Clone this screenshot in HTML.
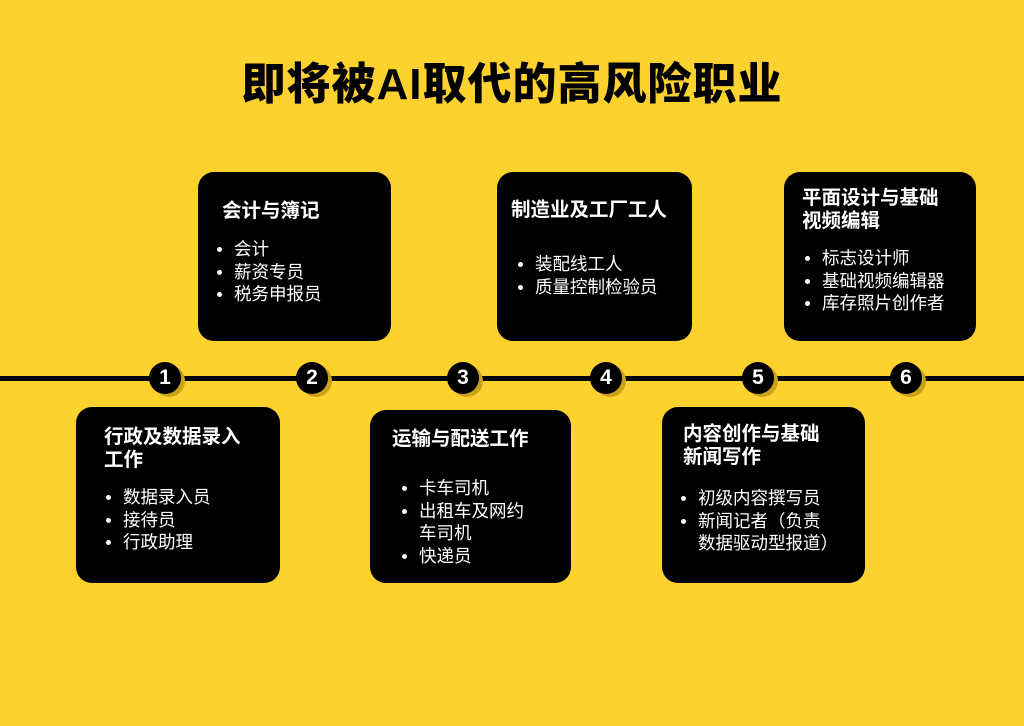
<!DOCTYPE html>
<html><head><meta charset="utf-8"><style>
*{margin:0;padding:0;box-sizing:border-box}
body{width:1024px;height:726px;background:#FDD22F;position:relative;overflow:hidden;font-family:"Liberation Sans","Noto Sans CJK SC",sans-serif}
h1{position:absolute;left:0;width:1024px;top:57px;text-align:center;font-size:44px;font-weight:900;color:#000;letter-spacing:1px;line-height:56px}
.line{position:absolute;left:0;width:1024px;top:376px;height:5px;background:#000}
.c{position:absolute;width:32px;height:32px;border-radius:50%;background:#000;color:#fff;font-weight:900;font-size:21px;text-align:center;line-height:32px;top:362px;box-shadow:4px 3px 0 #C9A21A}
.b{position:absolute;background:#000;border-radius:16px;color:#fff}
.t{position:absolute;font-weight:bold;font-size:19.5px;line-height:23px;white-space:nowrap}
ul{position:absolute;list-style:none;font-size:17.5px;line-height:22.5px;white-space:nowrap}
ul li{position:relative;padding-left:17px}
ul li:before{content:"";position:absolute;left:0;top:9px;width:5px;height:5px;border-radius:50%;background:#fff}
</style></head><body>
<h1>即将被AI取代的高风险职业</h1>
<div class="line"></div>
<div class="c" style="left:149px">1</div>
<div class="c" style="left:296px">2</div>
<div class="c" style="left:447px">3</div>
<div class="c" style="left:590px">4</div>
<div class="c" style="left:742px">5</div>
<div class="c" style="left:890px">6</div>

<div class="b" style="left:198px;top:172px;width:193px;height:169px">
<div class="t" style="left:24px;top:28px">会计与簿记</div>
<ul style="left:19px;top:66px"><li>会计</li><li>薪资专员</li><li>税务申报员</li></ul></div>

<div class="b" style="left:76px;top:407px;width:204px;height:176px">
<div class="t" style="left:28px;top:19px">行政及数据录入<br>工作</div>
<ul style="left:30px;top:79px"><li>数据录入员</li><li>接待员</li><li>行政助理</li></ul></div>

<div class="b" style="left:370px;top:410px;width:201px;height:173px">
<div class="t" style="left:22px;top:18px">运输与配送工作</div>
<ul style="left:32px;top:67px"><li>卡车司机</li><li>出租车及网约<br>车司机</li><li>快递员</li></ul></div>

<div class="b" style="left:497px;top:172px;width:195px;height:169px">
<div class="t" style="left:14px;top:27px">制造业及工厂工人</div>
<ul style="left:21px;top:81px"><li>装配线工人</li><li>质量控制检验员</li></ul></div>

<div class="b" style="left:662px;top:407px;width:203px;height:176px">
<div class="t" style="left:21px;top:16px">内容创作与基础<br>新闻写作</div>
<ul style="left:19px;top:80px"><li>初级内容撰写员</li><li>新闻记者（负责<br>数据驱动型报道）</li></ul></div>

<div class="b" style="left:784px;top:172px;width:192px;height:169px">
<div class="t" style="left:18px;top:15px">平面设计与基础<br>视频编辑</div>
<ul style="left:21px;top:75px"><li>标志设计师</li><li>基础视频编辑器</li><li>库存照片创作者</li></ul></div>
</body></html>
